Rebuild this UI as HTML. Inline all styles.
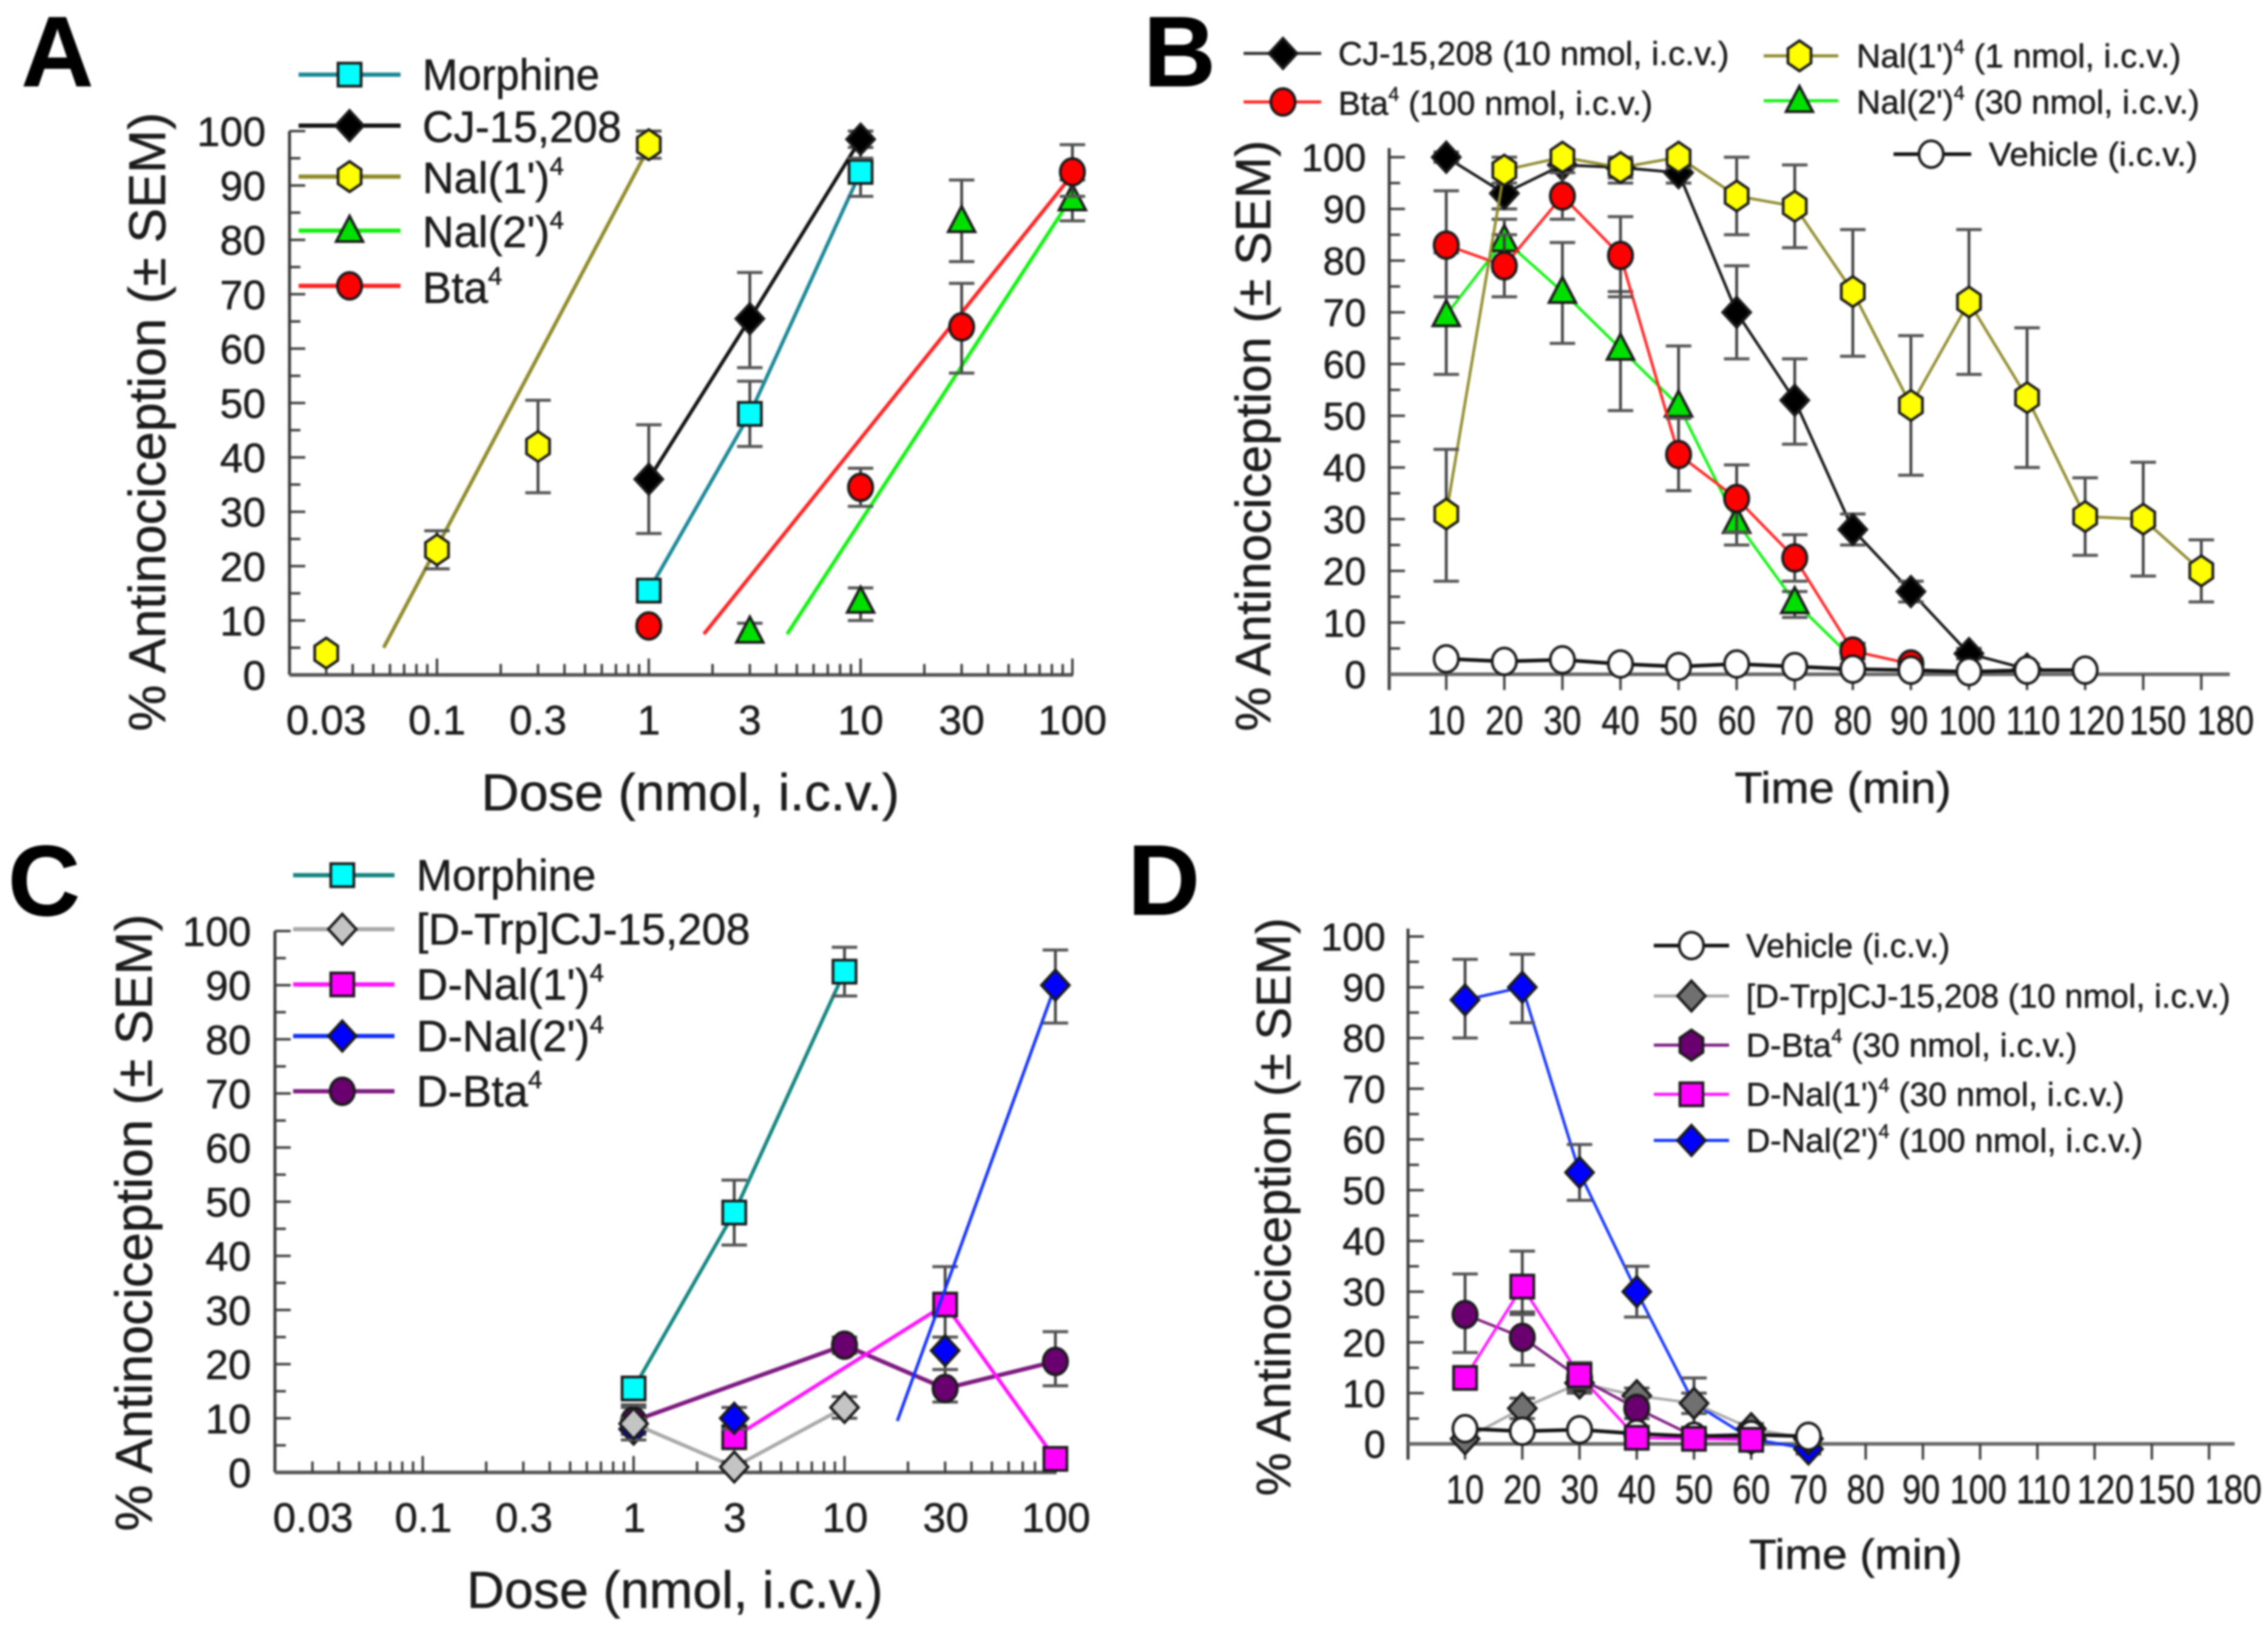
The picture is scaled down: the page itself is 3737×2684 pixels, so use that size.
<!DOCTYPE html>
<html lang="en">
<head>
<meta charset="utf-8">
<title>Antinociception dose-response and time-course panels</title>
<style>
html,body{margin:0;padding:0;background:#fff;width:3737px;height:2684px;overflow:hidden}
svg{display:block;filter:blur(1.5px)}
text{font-family:"Liberation Sans",sans-serif;fill:#1c1c1c;stroke:#1c1c1c;stroke-width:.7px}
.panel{font-family:"Liberation Sans",sans-serif;font-weight:700;fill:#000;stroke:#000}
</style>
</head>
<body>
<svg id="fig" xmlns="http://www.w3.org/2000/svg" width="3737" height="2684" viewBox="0 0 3737 2684">
<rect width="3737" height="2684" fill="#fff"/>

<text class="panel" x="35" y="142" font-size="165">A</text>
<text class="panel" x="1884" y="142" font-size="165">B</text>
<text class="panel" x="13" y="1508" font-size="165">C</text>
<text class="panel" x="1858" y="1507" font-size="165">D</text>

<text transform="translate(272,1205) rotate(-90)" font-size="85" textLength="1020" lengthAdjust="spacingAndGlyphs">% Antinociception (± SEM)</text>
<text transform="translate(2093,1205) rotate(-90)" font-size="82" textLength="974" lengthAdjust="spacingAndGlyphs">% Antinociception (± SEM)</text>
<text transform="translate(250,2523) rotate(-90)" font-size="85" textLength="1017" lengthAdjust="spacingAndGlyphs">% Antinociception (± SEM)</text>
<text transform="translate(2126,2465) rotate(-90)" font-size="80" textLength="953" lengthAdjust="spacingAndGlyphs">% Antinociception (± SEM)</text>

<text x="793" y="1335" font-size="85" textLength="689" lengthAdjust="spacingAndGlyphs">Dose (nmol, i.c.v.)</text>
<text x="2858" y="1323" font-size="72" textLength="357" lengthAdjust="spacingAndGlyphs">Time (min)</text>
<text x="769" y="2649" font-size="85" textLength="686" lengthAdjust="spacingAndGlyphs">Dose (nmol, i.c.v.)</text>
<text x="2882" y="2585" font-size="70" textLength="351" lengthAdjust="spacingAndGlyphs">Time (min)</text>

<g id="plots"></g>
<g id="legend-marks"></g>

<!-- Panel A legend text -->
<text x="696" y="148" font-size="72" textLength="292" lengthAdjust="spacingAndGlyphs">Morphine</text>
<text x="696" y="234" font-size="72" textLength="328" lengthAdjust="spacingAndGlyphs">CJ-15,208</text>
<text x="696" y="318" font-size="72">Nal(1')<tspan font-size="42" dy="-30">4</tspan></text>
<text x="696" y="407" font-size="72">Nal(2')<tspan font-size="42" dy="-30">4</tspan></text>
<text x="696" y="499" font-size="72">Bta<tspan font-size="42" dy="-30">4</tspan></text>

<!-- Panel B legend text -->
<text x="2205" y="107" font-size="55" textLength="644" lengthAdjust="spacingAndGlyphs">CJ-15,208 (10 nmol, i.c.v.)</text>
<text x="2205" y="189" font-size="55">Bta<tspan font-size="32" dy="-23">4</tspan><tspan dy="23"> (100 nmol, i.c.v.)</tspan></text>
<text x="3059" y="111" font-size="55">Nal(1')<tspan font-size="32" dy="-23">4</tspan><tspan dy="23"> (1 nmol, i.c.v.)</tspan></text>
<text x="3059" y="187" font-size="55">Nal(2')<tspan font-size="32" dy="-23">4</tspan><tspan dy="23"> (30 nmol, i.c.v.)</tspan></text>
<text x="3277" y="273" font-size="55" textLength="344" lengthAdjust="spacingAndGlyphs">Vehicle (i.c.v.)</text>

<!-- Panel C legend text -->
<text x="686" y="1467" font-size="72" textLength="296" lengthAdjust="spacingAndGlyphs">Morphine</text>
<text x="686" y="1556" font-size="72" textLength="550" lengthAdjust="spacingAndGlyphs">[D-Trp]CJ-15,208</text>
<text x="686" y="1647" font-size="72">D-Nal(1')<tspan font-size="42" dy="-30">4</tspan></text>
<text x="686" y="1732" font-size="72">D-Nal(2')<tspan font-size="42" dy="-30">4</tspan></text>
<text x="686" y="1823" font-size="72">D-Bta<tspan font-size="42" dy="-30">4</tspan></text>

<!-- Panel D legend text -->
<text x="2877" y="1577" font-size="55" textLength="336" lengthAdjust="spacingAndGlyphs">Vehicle (i.c.v.)</text>
<text x="2877" y="1660" font-size="55" textLength="798" lengthAdjust="spacingAndGlyphs">[D-Trp]CJ-15,208 (10 nmol, i.c.v.)</text>
<text x="2877" y="1741" font-size="55">D-Bta<tspan font-size="32" dy="-23">4</tspan><tspan dy="23"> (30 nmol, i.c.v.)</tspan></text>
<text x="2877" y="1822" font-size="55">D-Nal(1')<tspan font-size="32" dy="-23">4</tspan><tspan dy="23"> (30 nmol, i.c.v.)</tspan></text>
<text x="2877" y="1898" font-size="55">D-Nal(2')<tspan font-size="32" dy="-23">4</tspan><tspan dy="23"> (100 nmol, i.c.v.)</tspan></text>
</svg>

<script>
// ---------- Shared tick labels ----------
const percentTicks = [0, 10, 20, 30, 40, 50, 60, 70, 80, 90, 100];
const doseTicks = [0.03, 0.1, 0.3, 1, 3, 10, 30, 100];
const doseTickLabels = ['0.03', '0.1', '0.3', '1', '3', '10', '30', '100'];
const timeCategories = [10, 20, 30, 40, 50, 60, 70, 80, 90, 100, 110, 120, 150, 180];

// ---------- Panel A: dose response ----------
const aMorphineDose = [1, 3, 10];
const aMorphineMean = [15.5, 48, 92.5];
const aMorphineHigh = [17, 54, 97];
const aMorphineLow = [14, 42, 88];
const aCjDose = [1, 3, 10];
const aCjMean = [36, 65.5, 98.5];
const aCjHigh = [46, 74, 100];
const aCjLow = [26, 56.5, 95];
const aNal1Dose = [0.03, 0.1, 0.3, 1];
const aNal1Mean = [4, 23, 42, 97.5];
const aNal1High = [5, 26.5, 50.5, 100];
const aNal1Low = [3, 19.5, 33.5, 95];
const aNal1FitDose = [0.056, 1];
const aNal1FitMean = [5, 97];
const aNal2Dose = [3, 10, 30, 100];
const aNal2Mean = [8, 13.5, 83.5, 87.5];
const aNal2High = [9.5, 16, 91, 91];
const aNal2Low = [6.5, 10, 76, 83.5];
const aNal2FitDose = [4.5, 100];
const aNal2FitMean = [7.5, 88];
const aBtaDose = [1, 10, 30, 100];
const aBtaMean = [9, 34.5, 64, 92.5];
const aBtaHigh = [10, 38, 72, 97.5];
const aBtaLow = [8, 31, 55.5, 88];
const aBtaFitDose = [1.82, 100];
const aBtaFitMean = [7.5, 92];

// ---------- Panel B: time course ----------
const bCjTime = [10, 20, 30, 40, 50, 60, 70, 80, 90, 100, 110];
const bCjMean = [100, 93, 98.5, 98, 97, 70, 53, 28, 16, 4, 1];
const bCjHigh = [101, 97, 100, 100, 99, 79, 61, 31, 18, 5, 2];
const bCjLow = [99, 90, 97, 96, 95, 61, 44.5, 25, 14, 3, 0];
const bNal2Time = [10, 20, 30, 40, 50, 60, 70, 80];
const bNal2Mean = [69.5, 84, 74, 63, 52, 29.5, 14, 3];
const bNal2High = [81.5, 88, 83.5, 74, 63.5, 34, 16, 4];
const bNal2Low = [58, 78, 64, 51, 42, 25, 11, 2];
const bBtaTime = [10, 20, 30, 40, 50, 60, 70, 80, 90];
const bBtaMean = [83, 79, 92.5, 81, 42.5, 34, 22.5, 4.5, 2];
const bBtaHigh = [93.5, 85, 97, 88.5, 49.5, 40.5, 27, 6, 3];
const bBtaLow = [73, 73, 88, 73, 35.5, 27.5, 18, 3, 1];
const bNal1Time = [10, 20, 30, 40, 50, 60, 70, 80, 90, 100, 110, 120, 150, 180];
const bNal1Mean = [31, 97.5, 100, 98, 100, 92.5, 90.5, 74, 52, 72, 53.5, 30.5, 30, 20];
const bNal1High = [43.5, 100, 101, 100, 101, 100, 98.5, 86, 65.5, 86, 67, 38, 41, 26];
const bNal1Low = [18, 95, 98, 95, 98, 85, 82.5, 61.5, 38.5, 58, 40, 23, 19, 14];
const bVehicleTime = [10, 20, 30, 40, 50, 60, 70, 80, 90, 100, 110, 120];
const bVehicleMean = [3, 2.5, 2.8, 2, 1.5, 2, 1.5, 1, 0.8, 0.5, 0.8, 0.8];

// ---------- Panel C: dose response ----------
const cMorphineDose = [1, 3, 10];
const cMorphineMean = [15.5, 48, 92.5];
const cMorphineHigh = [17, 54, 97];
const cMorphineLow = [14, 42, 88];
const cBtaDose = [1, 10, 30, 100];
const cBtaMean = [9.5, 23.5, 15.5, 20.5];
const cBtaHigh = [12, 25, 19, 26];
const cBtaLow = [7, 22, 13, 16];
const cNal1Dose = [3, 30, 100];
const cNal1Mean = [6.5, 31, 2.5];
const cNal1High = [8, 38, 3.5];
const cNal1Low = [5, 25, 1.5];
const cNal2Dose = [1, 3, 30, 100];
const cNal2Mean = [8, 10, 22.5, 90];
const cNal2High = [10, 12, 25, 96.5];
const cNal2Low = [6, 8, 19, 83];
const cNal2FitDose = [17.8, 100];
const cNal2FitMean = [9.5, 90];
const cTrpDose = [1, 3, 10];
const cTrpMean = [9, 1, 12];
const cTrpHigh = [12.5, 2, 14];
const cTrpLow = [6, 0, 10];

// ---------- Panel D: time course ----------
const dNal2Time = [10, 20, 30, 40, 50, 60, 70];
const dNal2Mean = [87.5, 90, 53.5, 30, 8, 1, -1];
const dNal2High = [95.5, 96.5, 59, 35, 13, 2, 0];
const dNal2Low = [80, 83, 48, 25, 3, 0, -2];
const dTrpTime = [10, 20, 30, 40, 50, 60, 70];
const dTrpMean = [1, 7, 12, 9.5, 8, 3, 1];
const dTrpHigh = [2, 9, 15, 11, 10, 4, 2];
const dTrpLow = [0, 5, 10, 8, 6, 2, 0];
const dBtaTime = [10, 20, 30, 40, 50, 60];
const dBtaMean = [25.5, 21, 13, 7, 1.5, 1];
const dBtaHigh = [33.5, 26, 16, 9, 2.5, 2];
const dBtaLow = [18, 15.5, 10.5, 5, 0.5, 0];
const dVehicleTime = [10, 20, 30, 40, 50, 60, 70];
const dVehicleMean = [3, 2.5, 2.8, 2, 1.5, 1.8, 1.5];
const dNal1Time = [10, 20, 30, 40, 50, 60];
const dNal1Mean = [13, 31, 13.5, 1.2, 1, 0.8];
const dNal1High = [15, 38, 16, 2, 2, 1.5];
const dNal1Low = [11, 25.5, 11, 0.5, 0, 0];

const NS = 'http://www.w3.org/2000/svg';
const plots = document.getElementById('plots');
const legendMarks = document.getElementById('legend-marks');

function svgEl(parent, tag, attrs, name) {
  const el = document.createElementNS(NS, tag);
  for (const k in attrs) el.setAttribute(k, attrs[k]);
  
  
  parent.appendChild(el);
  return el;
}

// Axis scales
const xA = d => 1069 + 349 * Math.log10(d);
const yA = v => 1112 - 8.96 * v;
const xB = t => 2383 + 95.7 * timeCategories.indexOf(t);
const yB = v => 1111 - 8.52 * v;
const xC = d => 1044 + 347.5 * Math.log10(d);
const yC = v => 2426 - 8.92 * v;
const xD = t => 2414 + 94.3 * timeCategories.indexOf(t);
const yD = v => 2379 - 8.36 * v;

const AXIS = '#3c3c3c';

function yAxis(g, prefix, y, axisX, top, bottom, labelX, fs) {
  svgEl(g, 'line', {x1: axisX, x2: axisX, y1: top, y2: bottom, stroke: AXIS, 'stroke-width': 5}, prefix + '-y-axis-line');
  percentTicks.forEach((v, i) => {
    svgEl(g, 'line', {x1: axisX, x2: axisX + 26, y1: y(v), y2: y(v), stroke: AXIS, 'stroke-width': 4}, prefix + '-y-tick-' + v);
    if (i < percentTicks.length - 1) {
      const m = y(v + 5);
      svgEl(g, 'line', {x1: axisX, x2: axisX + 18, y1: m, y2: m, stroke: AXIS, 'stroke-width': 4}, prefix + '-y-minor-tick-' + (v + 5));
    }
    const t = svgEl(g, 'text', {x: labelX, y: y(v) + fs * 0.36, 'text-anchor': 'end', 'font-size': fs}, prefix + '-y-tick-label-' + v);
    t.textContent = String(v);
  });
}

function logXAxis(g, prefix, x, y0, axisStart, axisEnd, labelCenters, labelY) {
  svgEl(g, 'line', {x1: axisStart, x2: axisEnd, y1: y0, y2: y0, stroke: '#555', 'stroke-width': 6}, prefix + '-x-axis-line');
  [0.01, 0.1, 1, 10].forEach(decade => {
    for (let m = 1; m <= 9; m++) {
      const d = decade * m;
      if (d < 0.029) continue;
      svgEl(g, 'line', {x1: x(d), x2: x(d), y1: y0, y2: y0 - (m === 1 ? 27 : 18), stroke: AXIS, 'stroke-width': 4}, prefix + '-x-tick');
    }
  });
  svgEl(g, 'line', {x1: x(100), x2: x(100), y1: y0, y2: y0 - 27, stroke: AXIS, 'stroke-width': 4}, prefix + '-x-tick');
  doseTicks.forEach((d, i) => {
    const t = svgEl(g, 'text', {x: x(d) + labelCenters, y: labelY, 'text-anchor': 'middle', 'font-size': 68}, prefix + '-x-tick-label-' + doseTickLabels[i]);
    t.textContent = doseTickLabels[i];
  });
}

// The crowded last labels sit to the right of their ticks in the figure.
function timeLabelShift(c) {
  if (c === 110) return 10;
  if (c === 120) return 18;
  if (c === 150) return 24;
  if (c === 180) return 40;
  return c >= 90 ? -3 : 0;
}

function catXAxis(g, prefix, x, y0, axisStart, axisEnd, labelY, fs) {
  svgEl(g, 'line', {x1: axisStart, x2: axisEnd, y1: y0, y2: y0, stroke: '#666', 'stroke-width': 6}, prefix + '-x-axis-line');
  timeCategories.forEach(c => {
    svgEl(g, 'line', {x1: x(c), x2: x(c), y1: y0, y2: y0 + 26, stroke: AXIS, 'stroke-width': 4}, prefix + '-x-tick-' + c);
    const lx = x(c) + timeLabelShift(c);
    const t = svgEl(g, 'text', {transform: 'translate(' + lx + ',' + labelY + ') scale(0.84,1)', 'text-anchor': 'middle', 'font-size': fs}, prefix + '-x-tick-label-' + c);
    t.textContent = String(c);
  });
}

function marker(parent, shape, cx, cy, fill, name) {
  const base = {fill: fill, stroke: '#1a1a1a', 'stroke-width': 4.5};
  let pts;
  if (shape === 'square') {
    return svgEl(parent, 'rect', Object.assign({x: cx - 19, y: cy - 19, width: 38, height: 38}, base), name);
  }
  if (shape === 'circle') {
    return svgEl(parent, 'ellipse', Object.assign({cx: cx, cy: cy, rx: 20, ry: 22}, base), name);
  }
  if (shape === 'diamond') {
    pts = [[0, -25], [23, 0], [0, 25], [-23, 0]];
  } else if (shape === 'hexagon') {
    pts = [[0, -25], [19, -12], [19, 12], [0, 25], [-19, 12], [-19, -12]];
  } else {
    pts = [[0, -24], [22, 18], [-22, 18]];
  }
  return svgEl(parent, 'polygon', Object.assign({points: pts.map(p => (cx + p[0]) + ',' + (cy + p[1])).join(' ')}, base), name);
}

function series(prefix, opt) {
  const g = svgEl(plots, 'g', {}, prefix + '-series');
  const lx = opt.fitX || opt.xs;
  const ly = opt.fitY || opt.ys;
  const linePts = lx.map((v, i) => opt.sx(v) + ',' + opt.sy(ly[i])).join(' ');
  svgEl(g, 'polyline', {points: linePts, fill: 'none', stroke: opt.line, 'stroke-width': opt.lw || 6, 'stroke-linejoin': 'round'}, prefix + '-line');
  if (opt.hi) {
    opt.xs.forEach((v, i) => {
      const x = opt.sx(v), a = opt.sy(opt.hi[i]), b = opt.sy(opt.lo[i]);
      svgEl(g, 'line', {x1: x, x2: x, y1: a, y2: b, stroke: AXIS, 'stroke-width': 4.5}, prefix + '-error-bar');
      svgEl(g, 'line', {x1: x - 21, x2: x + 21, y1: a, y2: a, stroke: '#555', 'stroke-width': 5}, prefix + '-error-cap-upper');
      svgEl(g, 'line', {x1: x - 21, x2: x + 21, y1: b, y2: b, stroke: '#555', 'stroke-width': 5}, prefix + '-error-cap-lower');
    });
  }
  opt.xs.forEach((v, i) => {
    marker(g, opt.shape, opt.sx(v), opt.sy(opt.ys[i]), opt.fill, prefix + '-point-' + v);
  });
}

function legendSymbol(name, x1, x2, mx, y, stroke, shape, fill, lw) {
  const g = svgEl(legendMarks, 'g', {}, name);
  svgEl(g, 'line', {x1: x1, x2: x2, y1: y, y2: y, stroke: stroke, 'stroke-width': lw}, name + '-line');
  marker(g, shape, mx, y, fill, name + '-marker');
}

const TEAL = '#1b8796', OLIVE = '#8f8a2a', GREEN = '#10f010', RED = '#ff2222';
const MAG = '#ff10ff', BLUE = '#1030ff', PURPLE = '#7d1a80', GRAY = '#a8a8a8';

// ---------- Panel A ----------
const gA = svgEl(plots, 'g', {}, 'panel-a-axes');
yAxis(gA, 'panel-a', yA, 477, yA(100), 1112, 438, 68);
logXAxis(gA, 'panel-a', xA, 1112, 477, 1768, 0, 1210);
series('panel-a-morphine', {xs: aMorphineDose, ys: aMorphineMean, hi: aMorphineHigh, lo: aMorphineLow, sx: xA, sy: yA, line: TEAL, shape: 'square', fill: '#00ffff'});
series('panel-a-cj', {xs: aCjDose, ys: aCjMean, hi: aCjHigh, lo: aCjLow, sx: xA, sy: yA, line: '#111', shape: 'diamond', fill: '#000'});
series('panel-a-nal1', {xs: aNal1Dose, ys: aNal1Mean, hi: aNal1High, lo: aNal1Low, fitX: aNal1FitDose, fitY: aNal1FitMean, sx: xA, sy: yA, line: OLIVE, shape: 'hexagon', fill: '#ffff00'});
series('panel-a-nal2', {xs: aNal2Dose, ys: aNal2Mean, hi: aNal2High, lo: aNal2Low, fitX: aNal2FitDose, fitY: aNal2FitMean, sx: xA, sy: yA, line: GREEN, shape: 'triangle', fill: '#00e000'});
series('panel-a-bta', {xs: aBtaDose, ys: aBtaMean, hi: aBtaHigh, lo: aBtaLow, fitX: aBtaFitDose, fitY: aBtaFitMean, sx: xA, sy: yA, line: RED, shape: 'circle', fill: '#ff0000'});
legendSymbol('legend-a-morphine-symbol', 492, 660, 576, 123, TEAL, 'square', '#00ffff', 7);
legendSymbol('legend-a-cj-symbol', 492, 660, 576, 207, '#111', 'diamond', '#000', 7);
legendSymbol('legend-a-nal1-symbol', 492, 660, 576, 291, OLIVE, 'hexagon', '#ffff00', 7);
legendSymbol('legend-a-nal2-symbol', 492, 660, 576, 380, GREEN, 'triangle', '#00e000', 7);
legendSymbol('legend-a-bta-symbol', 492, 660, 576, 471, RED, 'circle', '#ff0000', 7);

// ---------- Panel B ----------
const gB = svgEl(plots, 'g', {}, 'panel-b-axes');
yAxis(gB, 'panel-b', yB, 2289, 244, 1137, 2251, 64);
catXAxis(gB, 'panel-b', xB, 1111, 2289, 3674, 1210, 67);
series('panel-b-cj', {xs: bCjTime, ys: bCjMean, hi: bCjHigh, lo: bCjLow, sx: xB, sy: yB, line: '#111', lw: 4.5, shape: 'diamond', fill: '#000'});
series('panel-b-nal2', {xs: bNal2Time, ys: bNal2Mean, hi: bNal2High, lo: bNal2Low, sx: xB, sy: yB, line: GREEN, lw: 4.5, shape: 'triangle', fill: '#00e000'});
series('panel-b-bta', {xs: bBtaTime, ys: bBtaMean, hi: bBtaHigh, lo: bBtaLow, sx: xB, sy: yB, line: RED, lw: 4.5, shape: 'circle', fill: '#ff0000'});
series('panel-b-nal1', {xs: bNal1Time, ys: bNal1Mean, hi: bNal1High, lo: bNal1Low, sx: xB, sy: yB, line: OLIVE, lw: 4.5, shape: 'hexagon', fill: '#ffff00'});
series('panel-b-vehicle', {xs: bVehicleTime, ys: bVehicleMean, sx: xB, sy: yB, line: '#111', lw: 6, shape: 'circle', fill: '#fff'});
legendSymbol('legend-b-cj-symbol', 2049, 2177, 2114, 88, '#333', 'diamond', '#000', 5);
legendSymbol('legend-b-bta-symbol', 2049, 2177, 2114, 168, RED, 'circle', '#ff0000', 5);
legendSymbol('legend-b-nal1-symbol', 2906, 3029, 2965, 92, OLIVE, 'hexagon', '#ffff00', 5);
legendSymbol('legend-b-nal2-symbol', 2906, 3029, 2965, 166, GREEN, 'triangle', '#00e000', 5);
legendSymbol('legend-b-vehicle-symbol', 3120, 3248, 3182, 254, '#111', 'circle', '#fff', 6);

// ---------- Panel C ----------
const gC = svgEl(plots, 'g', {}, 'panel-c-axes');
yAxis(gC, 'panel-c', yC, 453, yC(100), 2426, 414, 68);
logXAxis(gC, 'panel-c', xC, 2426, 453, 1741, 1, 2524);
series('panel-c-morphine', {xs: cMorphineDose, ys: cMorphineMean, hi: cMorphineHigh, lo: cMorphineLow, sx: xC, sy: yC, line: '#14857f', shape: 'square', fill: '#00ffff'});
series('panel-c-dbta', {xs: cBtaDose, ys: cBtaMean, hi: cBtaHigh, lo: cBtaLow, sx: xC, sy: yC, line: PURPLE, lw: 7, shape: 'circle', fill: '#6a0070'});
series('panel-c-dnal1', {xs: cNal1Dose, ys: cNal1Mean, hi: cNal1High, lo: cNal1Low, sx: xC, sy: yC, line: MAG, shape: 'square', fill: '#ff00ff'});
series('panel-c-dnal2', {xs: cNal2Dose, ys: cNal2Mean, hi: cNal2High, lo: cNal2Low, fitX: cNal2FitDose, fitY: cNal2FitMean, sx: xC, sy: yC, line: BLUE, lw: 5, shape: 'diamond', fill: '#0000ff'});
series('panel-c-dtrp', {xs: cTrpDose, ys: cTrpMean, hi: cTrpHigh, lo: cTrpLow, sx: xC, sy: yC, line: GRAY, shape: 'diamond', fill: '#c4c4c4'});
legendSymbol('legend-c-morphine-symbol', 483, 650, 564, 1442, '#14857f', 'square', '#00ffff', 7);
legendSymbol('legend-c-dtrp-symbol', 483, 650, 564, 1531, GRAY, 'diamond', '#c4c4c4', 7);
legendSymbol('legend-c-dnal1-symbol', 483, 650, 564, 1622, MAG, 'square', '#ff00ff', 7);
legendSymbol('legend-c-dnal2-symbol', 483, 650, 564, 1707, BLUE, 'diamond', '#0000ff', 7);
legendSymbol('legend-c-dbta-symbol', 483, 650, 564, 1798, PURPLE, 'circle', '#6a0070', 7);

// ---------- Panel D ----------
const gD = svgEl(plots, 'g', {}, 'panel-d-axes');
yAxis(gD, 'panel-d', yD, 2320, 1530, 2405, 2283, 64);
catXAxis(gD, 'panel-d', xD, 2379, 2320, 3682, 2477, 67);
series('panel-d-dnal2', {xs: dNal2Time, ys: dNal2Mean, hi: dNal2High, lo: dNal2Low, sx: xD, sy: yD, line: BLUE, lw: 4.5, shape: 'diamond', fill: '#0000ff'});
series('panel-d-dtrp', {xs: dTrpTime, ys: dTrpMean, hi: dTrpHigh, lo: dTrpLow, sx: xD, sy: yD, line: GRAY, lw: 4.5, shape: 'diamond', fill: '#707070'});
series('panel-d-dbta', {xs: dBtaTime, ys: dBtaMean, hi: dBtaHigh, lo: dBtaLow, sx: xD, sy: yD, line: PURPLE, lw: 4.5, shape: 'circle', fill: '#6a0070'});
series('panel-d-vehicle', {xs: dVehicleTime, ys: dVehicleMean, sx: xD, sy: yD, line: '#111', lw: 6, shape: 'circle', fill: '#fff'});
series('panel-d-dnal1', {xs: dNal1Time, ys: dNal1Mean, hi: dNal1High, lo: dNal1Low, sx: xD, sy: yD, line: MAG, lw: 4.5, shape: 'square', fill: '#ff00ff'});
legendSymbol('legend-d-vehicle-symbol', 2725, 2849, 2787, 1558, '#111', 'circle', '#fff', 6);
legendSymbol('legend-d-dtrp-symbol', 2725, 2849, 2787, 1641, GRAY, 'diamond', '#707070', 5);
legendSymbol('legend-d-dbta-symbol', 2725, 2849, 2787, 1722, PURPLE, 'hexagon', '#6a0070', 5);
legendSymbol('legend-d-dnal1-symbol', 2725, 2849, 2787, 1803, MAG, 'square', '#ff00ff', 5);
legendSymbol('legend-d-dnal2-symbol', 2725, 2849, 2787, 1879, BLUE, 'diamond', '#0000ff', 5);
</script>
</body>
</html>
